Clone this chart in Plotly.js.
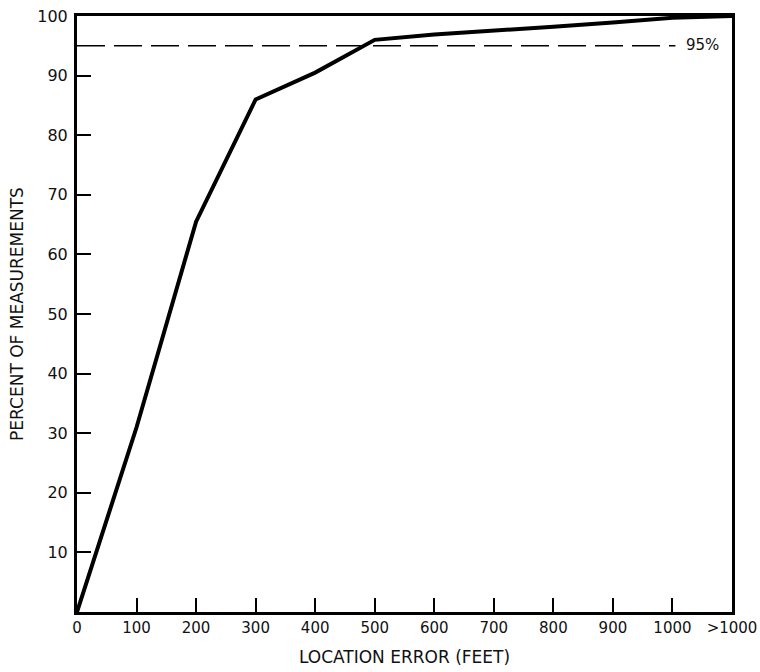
<!DOCTYPE html>
<html>
<head>
<meta charset="utf-8">
<script src="https://cdn.plot.ly/plotly-3.0.1.min.js"></script>
<style>html,body{margin:0;padding:0;background:#fff;}#chart{width:760px;height:672px;}</style>
</head>
<body>
<div id="chart"></div>
<script>
const categories = ['0','100','200','300','400','500','600','700','800','900','1000','>1000'];
const percentMeasured = [0, 31, 65.5, 86, 90.5, 96, 96.9, 97.5, 98.2, 98.9, 99.7, 100];
const yTickVals = [10,20,30,40,50,60,70,80,90,100];
const refLevel = 95;
const refLabel = '95%';

const font = 'DejaVu Sans, Liberation Sans, sans-serif';

const trace = {
  x: categories,
  y: percentMeasured,
  type: 'scatter',
  mode: 'lines',
  line: {color: '#000', width: 4},
  hoverinfo: 'skip'
};

const layout = {
  width: 760, height: 672,
  margin: {l: 77, r: 28, t: 16, b: 60},
  paper_bgcolor: '#fff', plot_bgcolor: '#fff',
  showlegend: false,
  font: {family: font, color: '#111', size: 14},
  xaxis: {
    type: 'category',
    categoryorder: 'array', categoryarray: categories,
    range: [0, categories.length - 1],
    showgrid: false, zeroline: false,
    showline: true, linecolor: '#000', linewidth: 3, mirror: true,
    ticks: 'inside', ticklen: 14, tickwidth: 2, tickcolor: '#000',
    tickfont: {family: font, size: 15, color: '#111'},
    title: {text: 'LOCATION ERROR (FEET)', font: {family: font, size: 17, color: '#111'}, standoff: 16}
  },
  yaxis: {
    range: [0, 100],
    tickvals: yTickVals,
    showgrid: false, zeroline: false,
    showline: true, linecolor: '#000', linewidth: 3, mirror: true,
    ticks: 'inside', ticklen: 14, tickwidth: 2, tickcolor: '#000',
    tickfont: {family: font, size: 16, color: '#111'},
    ticklabelstandoff: 3,
    title: {text: 'PERCENT OF MEASUREMENTS', font: {family: font, size: 17, color: '#111'}, standoff: 10}
  },
  shapes: [{
    type: 'line', xref: 'x', yref: 'y',
    x0: 0, x1: 10.05, y0: refLevel, y1: refLevel,
    line: {color: '#000', width: 1.5, dash: '28px,9px'}
  }],
  annotations: [{
    xref: 'x', yref: 'y', x: 10.5, y: refLevel, yshift: 1,
    text: refLabel, showarrow: false,
    font: {family: font, size: 15, color: '#111'}
  }]
};

Plotly.newPlot('chart', [trace], layout, {displayModeBar: false, staticPlot: true});
</script>
</body>
</html>
